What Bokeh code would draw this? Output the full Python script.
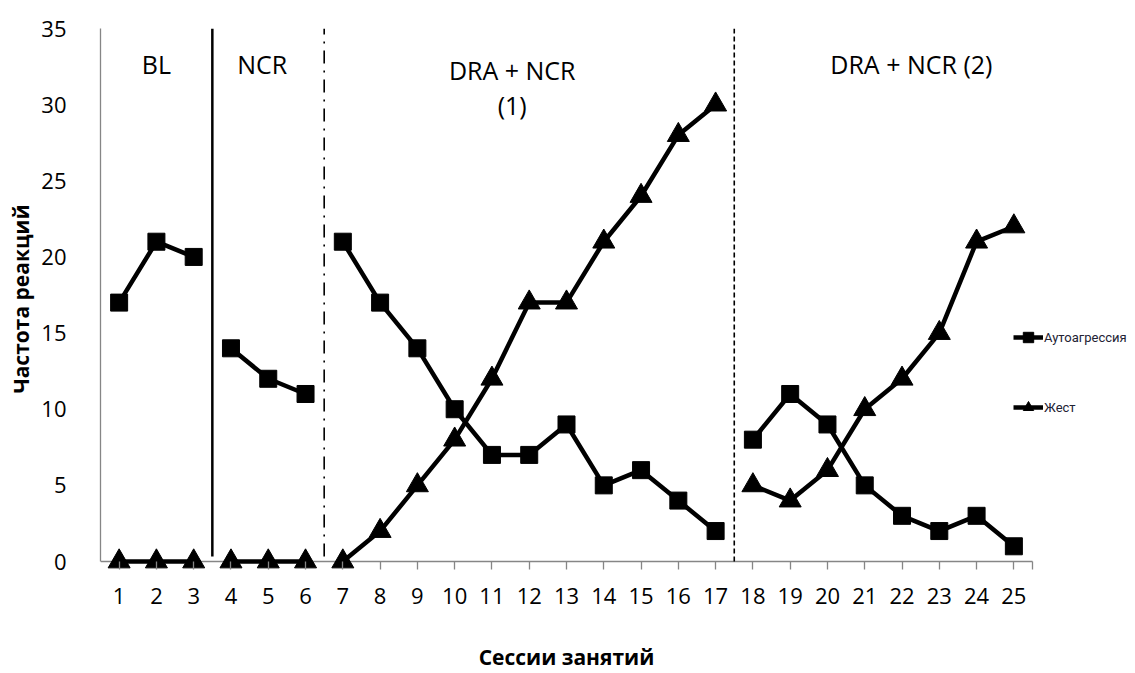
from bokeh.plotting import figure
from bokeh.models import Legend, LegendItem, FixedTicker, ColumnDataSource, LinearAxis
from bokeh.core.properties import value
from bokeh.embed import file_html
from bokeh.resources import INLINE

sessions = list(range(1, 26))
autoaggression = [17, 21, 20, 14, 12, 11, 21, 17, 14, 10, 7, 7, 9, 5, 6, 4, 2, 8, 11, 9, 5, 3, 2, 3, 1]
gesture = [0, 0, 0, 0, 0, 0, 0, 2, 5, 8, 12, 17, 17, 21, 24, 28, 30, 5, 4, 6, 10, 12, 15, 21, 22]
phase_starts = [1, 4, 7, 18]
phase_ends = [3, 6, 17, 25]
phase_labels = ["BL", "NCR", "DRA + NCR\n(1)", "DRA + NCR (2)"]
y_ticks = [0, 5, 10, 15, 20, 25, 30, 35]
x_title = "Сессии занятий"
y_title = "Частота реакций"

FONT = "Open Sans"
GRAY = "#868686"

# layout (pixels): axis span 0.5..25.5 over 932 px, y 0..35 over 534 px;
# frame extends right (legend) and a little below zero (markers at 0 not clipped)
FIG_W, FIG_H = 1135, 673
BORDER_L, BORDER_T = 100, 28
AXIS_W, AXIS_H, BELOW_ZERO = 932, 534, 8
x_lo, x_hi = 0.5, 25.5
y_lo, y_hi = 0, 35
xs_per_px = (x_hi - x_lo) / AXIS_W
ys_per_px = (y_hi - y_lo) / AXIS_H
x_end = x_lo + (FIG_W - BORDER_L) * xs_per_px
y_start = y_lo - BELOW_ZERO * ys_per_px
BORDER_B = FIG_H - BORDER_T - AXIS_H - BELOW_ZERO

# phase label nudges in screen pixels (layout only)
label_dx = [0, -6, -17, 28]
label_dy = [0, 0, 6, 0]

p = figure(width=FIG_W, height=FIG_H, output_backend="svg", toolbar_location=None,
           x_range=(x_lo, x_end), y_range=(y_start, y_hi),
           min_border_left=BORDER_L, min_border_right=0, min_border_top=BORDER_T,
           min_border_bottom=BORDER_B)
p.outline_line_color = None
p.grid.visible = False
p.background_fill_color = "white"

# x axis: ticks rise from the frame edge to the zero line; line drawn at y=0
xa = p.xaxis[0]
xa.ticker = FixedTicker(ticks=sessions + [x_hi])
xa.major_label_overrides = {x_hi: ""}
xa.bounds = (x_lo, x_hi)
xa.axis_line_color = None
xa.major_tick_line_color = GRAY
xa.major_tick_line_width = 1.3
xa.major_tick_in = BELOW_ZERO
xa.major_tick_out = 0
xa.minor_tick_line_color = None
xa.major_label_text_font = FONT
xa.major_label_text_font_size = "22px"
xa.major_label_text_color = "black"
xa.major_label_standoff = 18

# x axis title, centred on the session span
xt = LinearAxis(ticker=FixedTicker(ticks=[(x_lo + x_hi) / 2]),
                major_label_overrides={(x_lo + x_hi) / 2: x_title},
                axis_line_color=None, major_tick_line_color=None,
                minor_tick_line_color=None, major_tick_in=0, major_tick_out=0,
                major_label_standoff=36, major_label_text_font=FONT,
                major_label_text_font_style="bold", major_label_text_font_size="21px",
                major_label_text_color="black")
p.add_layout(xt, "below")

ya = p.yaxis[0]
ya.ticker = FixedTicker(ticks=y_ticks)
ya.bounds = (y_lo, y_hi)
ya.axis_line_color = GRAY
ya.axis_line_width = 1.3
ya.major_tick_line_color = None
ya.minor_tick_line_color = None
ya.major_label_text_font = FONT
ya.major_label_text_font_size = "22px"
ya.major_label_text_color = "black"
ya.major_label_standoff = 28
ya.axis_label = y_title
ya.axis_label_text_font = FONT
ya.axis_label_text_font_style = "bold"
ya.axis_label_text_font_size = "21px"
ya.axis_label_text_color = "black"
ya.axis_label_standoff = 3

p.segment(x0=[x_lo], y0=[y_lo], x1=[x_hi], y1=[y_lo], line_color=GRAY, line_width=1.3)

# phase boundary lines
bounds = [(phase_ends[i] + phase_starts[i + 1]) / 2 for i in range(len(phase_starts) - 1)]
dashes = ["solid", "13 7 2 7", "5 3"]
widths = [2.5, 1.6, 1.6]
y_bottoms = [0.33, 0.33, 0.0]
y_tops = [35.0, 35.0, 35.3]
for b, d, w, y0, y1 in zip(bounds, dashes, widths, y_bottoms, y_tops):
    p.segment(x0=[b], y0=[y0], x1=[b], y1=[y1], line_color="black",
              line_width=w, line_dash=d)

# phase labels
edges = [x_lo] + bounds + [x_hi]
label_x = [(edges[i] + edges[i + 1]) / 2 for i in range(len(phase_labels))]
lab_src = ColumnDataSource(dict(x=label_x, y=[33.8] * len(phase_labels), text=phase_labels,
                                dx=label_dx, dy=label_dy))
p.text(x="x", y="y", text="text", x_offset="dx", y_offset="dy", source=lab_src,
       text_font=value(FONT), text_font_size="25px", text_align="center",
       text_baseline="top", text_color="black", text_line_height=1.05)

# series, broken per phase
r_auto = []
r_gest = []
for s, e in zip(phase_starts, phase_ends):
    xs = sessions[s - 1:e]
    src = ColumnDataSource(dict(x=xs, a=autoaggression[s - 1:e], g=gesture[s - 1:e]))
    la = p.line("x", "a", source=src, line_color="black", line_width=4.5)
    ma = p.scatter("x", "a", source=src, marker="square", size=17,
                   fill_color="black", line_color="black")
    lg = p.line("x", "g", source=src, line_color="black", line_width=4.5)
    mg = p.scatter("x", "g", source=src, marker="triangle", size=22,
                   fill_color="black", line_color="black")
    r_auto += [la, ma]
    r_gest += [lg, mg]

legend = Legend(items=[LegendItem(label="Аутоагрессия", renderers=r_auto[:2]),
                       LegendItem(label="Жест", renderers=r_gest[:2])],
                location=(913, 141 + BELOW_ZERO), orientation="vertical",
                padding=0, margin=0, spacing=44,
                glyph_width=30, glyph_height=26, label_height=26,
                label_standoff=1, border_line_color=None,
                background_fill_alpha=0,
                label_text_font="Roboto", label_text_font_size="13px",
                label_text_color="#222233")
p.add_layout(legend, "center")

open("out.html", "w").write(file_html(p, INLINE))
